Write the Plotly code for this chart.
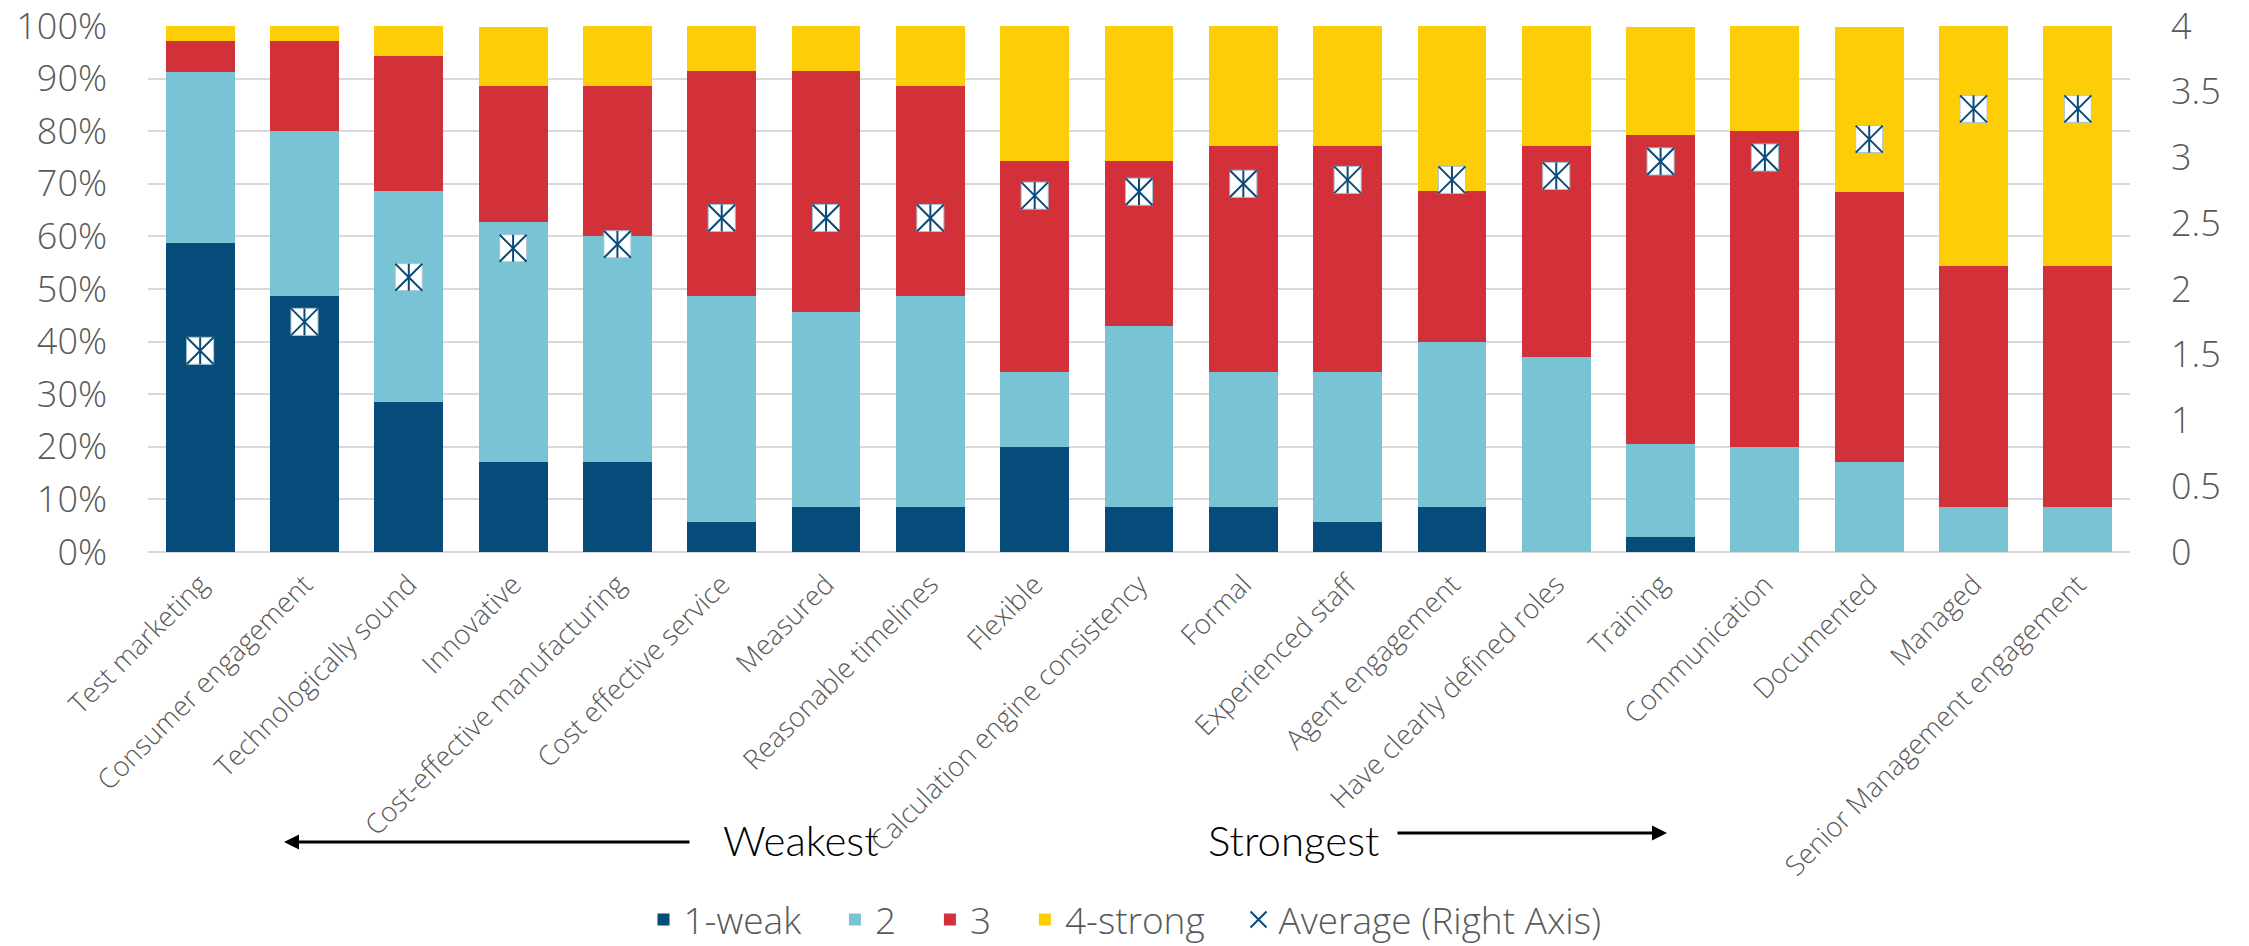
import plotly.graph_objects as go

categories = ["Test marketing", "Consumer engagement", "Technologically sound", "Innovative",
              "Cost-effective manufacturing", "Cost effective service", "Measured",
              "Reasonable timelines", "Flexible", "Calculation engine consistency", "Formal",
              "Experienced staff", "Agent engagement", "Have clearly defined roles", "Training",
              "Communication", "Documented", "Managed", "Senior Management engagement"]

weak1 = [0.588, 0.486, 0.286, 0.171, 0.171, 0.057, 0.086, 0.086, 0.200, 0.086,
         0.086, 0.057, 0.086, 0.000, 0.029, 0.000, 0.000, 0.000, 0.000]
two = [0.324, 0.314, 0.400, 0.457, 0.429, 0.429, 0.371, 0.400, 0.143, 0.343,
       0.257, 0.286, 0.314, 0.371, 0.176, 0.200, 0.171, 0.086, 0.086]
three = [0.059, 0.171, 0.257, 0.257, 0.286, 0.429, 0.457, 0.400, 0.400, 0.314,
         0.429, 0.429, 0.286, 0.400, 0.588, 0.600, 0.514, 0.457, 0.457]
strong4 = [0.029, 0.029, 0.057, 0.114, 0.114, 0.086, 0.086, 0.114, 0.257, 0.257,
           0.229, 0.229, 0.314, 0.229, 0.206, 0.200, 0.314, 0.457, 0.457]
average = [1.53, 1.75, 2.09, 2.31, 2.34, 2.54, 2.54, 2.54, 2.71, 2.74,
           2.80, 2.83, 2.83, 2.86, 2.97, 3.00, 3.14, 3.37, 3.37]

series_names = ["1-weak", "2", "3", "4-strong"]
series_colors = ["#054c7b", "#78c3d4", "#d3313a", "#fdcd07"]
avg_name = "Average (Right Axis)"
weakest_label = "Weakest"
strongest_label = "Strongest"

TICK_FONT = "Open Sans"
GRAY = "#595959"
GRID = "#d9d9d9"
MARK = "#0a4a78"
PAD = "\u00a0" * 3  # extra spacing between legend entries

fig = go.Figure()
for name, vals, col in zip(series_names, [weak1, two, three, strong4], series_colors):
    fig.add_trace(go.Bar(x=categories, y=vals, name=name + PAD,
                         marker=dict(color=col, line=dict(width=0)), yaxis="y"))

# average markers: white square with asterisk (X + vertical stroke)
fig.add_trace(go.Scatter(x=categories, y=average, yaxis="y2", mode="markers", showlegend=False,
                         marker=dict(symbol="square", size=27, color="white",
                                     line=dict(color="#a9c4d6", width=1)), hoverinfo="skip"))
fig.add_trace(go.Scatter(x=categories, y=average, yaxis="y2", mode="markers", name=avg_name,
                         marker=dict(symbol="x-thin-open", size=27, color=MARK,
                                     line=dict(color=MARK, width=2))))
fig.add_trace(go.Scatter(x=categories, y=average, yaxis="y2", mode="markers", showlegend=False,
                         marker=dict(symbol="line-ns-open", size=19.3, color=MARK,
                                     line=dict(color=MARK, width=2)), hoverinfo="skip"))

W, H = 2249, 946
L, T = 148, 26
R = W - 2130
B = H - 552
pw, ph = W - L - R, H - T - B


def xp(px):  # screen px -> paper
    return (px - L) / pw


def yp(py):
    return (H - B - py) / ph


fig.update_layout(
    width=W, height=H,
    margin=dict(l=L, r=R, t=T, b=B, autoexpand=False),
    paper_bgcolor="white", plot_bgcolor="white",
    barmode="stack", bargap=0.34,
    font=dict(family=TICK_FONT, color=GRAY),
    xaxis=dict(tickangle=-45, tickfont=dict(family=TICK_FONT, size=27.5, color=GRAY, weight=300),
               showgrid=False, showline=False, ticks="", ticklabelstandoff=10,
               range=[-0.5, len(categories) - 0.5]),
    yaxis=dict(range=[0, 1], dtick=0.1, tickformat=".0%", showgrid=True, gridcolor=GRID,
               gridwidth=1.5, zeroline=True, zerolinecolor=GRID, zerolinewidth=1.5,
               tickfont=dict(family=TICK_FONT, size=36, color=GRAY, weight=300),
               ticklabelstandoff=40),
    yaxis2=dict(range=[0, 4], dtick=0.5, overlaying="y", side="right", showgrid=False,
                zeroline=False, tickfont=dict(family=TICK_FONT, size=36, color=GRAY, weight=300),
                ticklabelstandoff=40),
    legend=dict(orientation="h", x=xp(1125), xanchor="center", y=yp(920), yanchor="middle",
                traceorder="normal", font=dict(family=TICK_FONT, size=37, color=GRAY, weight=300),
                itemwidth=30, bgcolor="rgba(0,0,0,0)"),
    showlegend=True,
)

fig.add_annotation(xref="paper", yref="paper", x=xp(801), y=yp(840), text=weakest_label,
                   showarrow=False, font=dict(family="Lato", size=42, color="black", weight=300),
                   xanchor="center", yanchor="middle")
fig.add_annotation(xref="paper", yref="paper", x=xp(1293), y=yp(840), text=strongest_label,
                   showarrow=False, font=dict(family="Lato", size=42, color="black", weight=300),
                   xanchor="center", yanchor="middle")
fig.add_annotation(xref="paper", yref="paper", x=xp(284), y=yp(842), text="",
                   showarrow=True, ax=407, ay=0, arrowhead=2, arrowsize=1, arrowwidth=3,
                   arrowcolor="black", standoff=0)
fig.add_annotation(xref="paper", yref="paper", x=xp(1667), y=yp(833), text="",
                   showarrow=True, ax=-271, ay=0, arrowhead=2, arrowsize=1, arrowwidth=3,
                   arrowcolor="black", standoff=0)

# remove the default 8px page margin so the figure sits at the window's top-left corner
fig.write_html("out.html",
               config={"displayModeBar": False},
               post_script="document.body.style.margin='0px';"
                           "document.documentElement.style.overflow='hidden';")
